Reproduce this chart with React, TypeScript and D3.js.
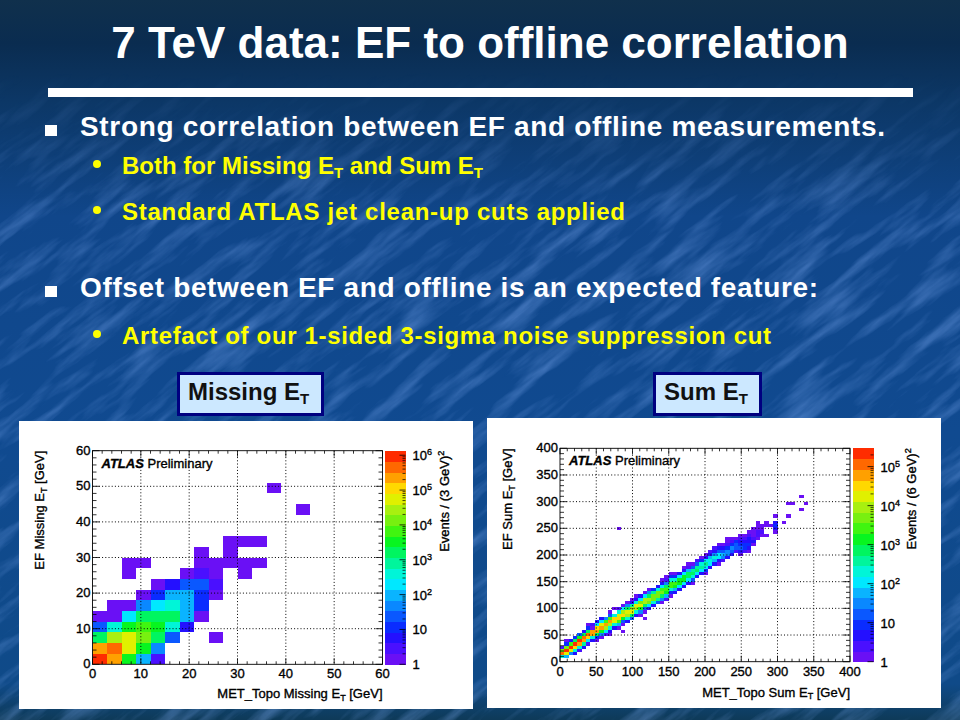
import { quantize, range, scaleLinear, scaleLog, scaleQuantize } from 'd3';
import React from 'react';

const W = 960;
const H = 720;
const font = '"Liberation Sans", Arial, sans-serif';

// contour colours, level 1 (lowest) to 20 (highest)
const palette = [
	'#6a10f5', '#4a10ff', '#2410ff', '#0a2cff', '#0a58ff', '#0a88ff', '#0ab4ff', '#00e8ff', '#00f5d8', '#00f59c',
	'#00f560', '#08f520', '#40f510', '#78f010', '#a8f010', '#e0f000', '#ffd800', '#ffa000', '#ff6800', '#ff2c00',
];

// left plot: EF vs offline missing ET, 3 GeV bins: [y bin, first x bin, levels]
const missingRows: [number, number, number[]][] = [
	[0, 0, [20, 18, 12, 7, 2]],
	[1, 0, [18, 19, 16, 12, 6]],
	[2, 0, [11, 15, 16, 14, 11, 5]],
	[2, 8, [1]],
	[3, 0, [5, 9, 12, 13, 12, 9, 3]],
	[4, 0, [1, 1, 8, 11, 11, 11, 7, 1]],
	[5, 1, [1, 1, 6, 8, 9, 7, 4]],
	[6, 3, [1, 4, 7, 7, 4, 1]],
	[7, 4, [1, 3, 5, 5, 2]],
	[8, 2, [1]],
	[8, 6, [1, 2, 1]],
	[8, 10, [1]],
	[9, 2, [1, 1]],
	[9, 7, [1, 1, 1, 1, 1]],
	[10, 7, [1]],
	[10, 9, [1]],
	[11, 9, [1, 1, 1]],
	[14, 14, [1]],
	[16, 12, [1]],
];

// right plot: EF vs offline sum ET, 6 GeV bins: [x bin, first y bin, levels], 0 = empty
const sumColumns: [number, number, number[]][] = [
	[0, 1, [9, 19, 14, 2]],
	[1, 1, [7, 16, 20, 14, 4, 1]],
	[2, 2, [6, 16, 20, 13, 3]],
	[3, 2, [3, 9, 17, 20, 11, 4]],
	[4, 3, [2, 9, 18, 20, 12, 5]],
	[5, 4, [3, 10, 18, 19, 11, 3]],
	[6, 5, [2, 8, 17, 19, 11, 4]],
	[7, 6, [3, 9, 18, 18, 9, 2]],
	[8, 6, [1, 4, 11, 18, 17, 8, 3]],
	[9, 7, [1, 6, 12, 18, 16, 8, 3]],
	[10, 8, [2, 8, 15, 18, 13, 6]],
	[11, 9, [3, 9, 15, 18, 13, 5, 1]],
	[12, 10, [3, 9, 16, 17, 9, 0, 1]],
	[13, 10, [1, 7, 13, 17, 16, 9, 2]],
	[14, 11, [1, 5, 12, 17, 15, 8, 1]],
	[15, 12, [3, 9, 15, 16, 11, 6, 1]],
	[16, 13, [5, 11, 16, 15, 10, 3, 1]],
	[17, 14, [3, 9, 15, 16, 9, 3, 1]],
	[18, 14, [1, 6, 12, 16, 14, 8, 3]],
	[19, 15, [1, 5, 11, 15, 15, 8, 1]],
	[20, 16, [3, 8, 14, 15, 11, 6, 1]],
	[21, 17, [3, 9, 14, 14, 10, 4]],
	[22, 18, [5, 10, 14, 14, 9, 3]],
	[23, 18, [1, 6, 11, 14, 13, 8, 3, 1]],
	[24, 19, [2, 7, 12, 13, 11, 6, 2, 1]],
	[25, 20, [1, 4, 9, 13, 13, 9, 4, 1]],
	[26, 21, [3, 7, 12, 13, 9, 4, 1]],
	[27, 22, [3, 8, 12, 12, 8, 3]],
	[28, 23, [3, 8, 12, 12, 8, 3, 1]],
	[29, 24, [3, 8, 11, 11, 7, 2, 1]],
	[30, 24, [1, 5, 9, 11, 10, 5, 1]],
	[31, 26, [3, 8, 11, 10, 5, 2]],
	[32, 27, [3, 8, 10, 9, 4, 1]],
	[33, 27, [1, 4, 8, 10, 8, 3, 1]],
	[34, 29, [3, 8, 9, 7, 3, 2]],
	[35, 30, [3, 7, 9, 6, 3, 2]],
	[36, 30, [1, 3, 8, 8, 5, 3, 1]],
	[37, 31, [2, 6, 7, 5, 3, 1]],
	[38, 32, [3, 6, 6, 4, 2, 1, 1]],
	[39, 33, [3, 5, 6, 4, 2, 1]],
	[40, 34, [2, 5, 5, 4, 1]],
	[41, 33, [1, 3, 5, 4, 3, 2, 1]],
	[42, 34, [2, 4, 4, 3, 2, 1]],
	[43, 34, [1, 3, 4, 3, 3, 2, 1]],
	[44, 36, [1, 3, 2, 1, 1, 1]],
	[45, 38, [1, 2, 2, 1, 1, 1]],
	[46, 39, [1, 2, 1, 1]],
	[47, 39, [1, 0, 0, 1, 1]],
	[48, 42, [1]],
	[49, 40, [1, 3, 4, 3, 0, 1]],
	[51, 43, [1]],
	[52, 45, [1, 0, 0, 0, 1]],
	[53, 49, [1]],
	[55, 47, [1, 0, 0, 0, 1]],
	[56, 49, [1]],
	[6, 11, [1]],
	[7, 10, [1]],
	[11, 8, [1]],
	[13, 41, [1]],
	[14, 9, [1]],
	[19, 13, [1]],
];

const missingXTicks = [0, 10, 20, 30, 40, 50, 60];
const missingYTicks = [0, 10, 20, 30, 40, 50, 60];
const sumXTicks = [0, 50, 100, 150, 200, 250, 300, 350, 400];
const sumYTicks = [0, 50, 100, 150, 200, 250, 300, 350, 400];
const missingZTop = 6.13;
const sumZTop = 5.47;

const headings = [
	{ text: 'Strong correlation between EF and offline measurements.', y: 136, len: 805 },
	{ text: 'Offset between EF and offline is an expected feature:', y: 297, len: 738 },
];
const subItems = [
	{ text: 'Standard ATLAS jet clean-up cuts applied', y: 220, len: 503 },
	{ text: 'Artefact of our 1-sided 3-sigma noise suppression cut', y: 344, len: 649 },
];

const Sub = ({ children, size }: { children: string; size: number }) => (
	<>
		<tspan dy={size * 0.28} fontSize={size}>{children}</tspan>
		<tspan dy={-size * 0.28}>{'\u200b'}</tspan>
	</>
);

interface PlotProps {
	x0: number;
	x1: number;
	yTop: number;
	yBottom: number;
	barX: number;
	xMax: number;
	bin: number;
	xTicks: number[];
	yTicks: number[];
	minorStep: number;
	zTop: number;
	cells: { i: number; j: number; level: number }[];
	atlasX: number;
	atlasY: number;
	xLabel: string;
	yLabel: string;
	yLabelX: number;
	xLabelY: number;
	zLabel: string;
	zLabelX: number;
}

const Plot = (p: PlotProps) => {
	const xScale = scaleLinear().domain([0, p.xMax]).range([p.x0, p.x1]);
	const yScale = scaleLinear().domain([0, p.xMax]).range([p.yBottom, p.yTop]);
	const zScale = scaleLog().domain([1, Math.pow(10, p.zTop)]).range([p.yBottom, p.yTop]);
	const colour = scaleQuantize<string>().domain([0.5, 20.5]).range(palette);
	const bands = scaleLinear().domain([0, 20]).range([p.yBottom, p.yTop]);
	const minor = range(0, p.xMax + 0.01, p.minorStep);
	const barW = 20.5;
	const decades = range(0, Math.floor(p.zTop) + 1);
	const zMinor = range(0, Math.ceil(p.zTop))
		.flatMap(d => range(2, 10).map(m => m * Math.pow(10, d)))
		.filter(v => v < Math.pow(10, p.zTop));
	const labelStyle = { fontFamily: font, fontSize: 13, fill: '#000', stroke: '#000', strokeWidth: 0.35 };

	return (
		<g>
			{p.cells.map(c => (
				<rect
					key={`${c.i}-${c.j}`}
					x={xScale(c.i * p.bin)}
					y={yScale((c.j + 1) * p.bin)}
					width={xScale((c.i + 1) * p.bin) - xScale(c.i * p.bin)}
					height={yScale(c.j * p.bin) - yScale((c.j + 1) * p.bin)}
					fill={colour(c.level)}
					shapeRendering="crispEdges"
				/>
			))}
			{/* dotted grid */}
			{p.xTicks.slice(1, -1).map(t => (
				<line key={t} x1={xScale(t)} x2={xScale(t)} y1={p.yTop} y2={p.yBottom} stroke="#000" strokeDasharray="1 2.2" />
			))}
			{p.yTicks.slice(1, -1).map(t => (
				<line key={t} x1={p.x0} x2={p.x1} y1={yScale(t)} y2={yScale(t)} stroke="#000" strokeDasharray="1 2.2" />
			))}
			{minor.map(t => {
				const major = t % p.xTicks[1] === 0;
				const len = major ? 6 : 3;
				return (
					<g key={t} stroke="#000" strokeWidth={0.8}>
						<line x1={xScale(t)} x2={xScale(t)} y1={p.yBottom} y2={p.yBottom - len} />
						<line x1={xScale(t)} x2={xScale(t)} y1={p.yTop} y2={p.yTop + len} />
						<line y1={yScale(t)} y2={yScale(t)} x1={p.x0} x2={p.x0 + len + 1} />
						<line y1={yScale(t)} y2={yScale(t)} x1={p.x1} x2={p.x1 - len - 1} />
					</g>
				);
			})}
			<rect x={p.x0} y={p.yTop} width={p.x1 - p.x0} height={p.yBottom - p.yTop} fill="none" stroke="#000" strokeWidth={0.9} />
			{p.xTicks.map(t => (
				<text key={t} x={xScale(t)} y={p.yBottom + 14} textAnchor="middle" {...labelStyle}>{t}</text>
			))}
			{p.yTicks.map(t => (
				<text key={t} x={p.x0 - 2} y={yScale(t) + 4} textAnchor="end" {...labelStyle}>{t}</text>
			))}
			<text x={p.atlasX} y={p.atlasY} {...labelStyle}>
				<tspan fontWeight="bold" fontStyle="italic">ATLAS</tspan> Preliminary
			</text>
			<text x={p.x1} y={p.xLabelY} textAnchor="end" {...labelStyle}>
				{p.xLabel} E<Sub size={9}>T</Sub> [GeV]
			</text>
			<text transform={`translate(${p.yLabelX},${p.yTop}) rotate(-90)`} textAnchor="end" {...labelStyle}>
				{p.yLabel} E<Sub size={9}>T</Sub> [GeV]
			</text>
			{/* colour bar */}
			{palette.map((c, k) => (
				<rect key={c} x={p.barX} y={bands(k + 1)} width={barW} height={bands(k) - bands(k + 1) + 0.5} fill={c} shapeRendering="crispEdges" />
			))}
			{zMinor.map(v => (
				<line key={v} x1={p.barX + barW} x2={p.barX + barW - 3} y1={zScale(v)} y2={zScale(v)} stroke="#000" strokeWidth={0.7} />
			))}
			{decades.map(d => (
				<g key={d}>
					<line x1={p.barX + barW} x2={p.barX + barW - 6} y1={zScale(Math.pow(10, d))} y2={zScale(Math.pow(10, d))} stroke="#000" strokeWidth={0.8} />
					<text x={p.barX + barW + 7} y={zScale(Math.pow(10, d)) + 5} {...labelStyle}>
						{d === 0 ? '1' : '10'}
						{d > 1 && <tspan dy={-5} fontSize={9}>{d}</tspan>}
					</text>
				</g>
			))}
			<text transform={`translate(${p.zLabelX},${p.yTop}) rotate(-90)`} textAnchor="end" {...labelStyle}>
				{p.zLabel}
				<tspan dy={-5} fontSize={9}>2</tspan>
			</text>
		</g>
	);
};

const missingCells = missingRows.flatMap(([j, start, levels]) =>
	levels.map((level, k) => ({ i: start + k, j, level })),
);
const sumCells = sumColumns.flatMap(([i, start, levels]) =>
	levels.map((level, k) => ({ i, j: start + k, level })).filter(c => c.level > 0),
);

const App = () => (
	<svg width={W} height={H} style={{ position: 'absolute', left: 0, top: 0, display: 'block' }}>
		<defs>
			<linearGradient id="bg" x1="0" y1="0" x2="0" y2="1">
				<stop offset="0" stopColor="#10304c" />
				<stop offset="0.06" stopColor="#0a2c50" />
				<stop offset="0.14" stopColor="#0c3766" />
				<stop offset="0.3" stopColor="#10468a" />
				<stop offset="0.6" stopColor="#104a90" />
				<stop offset="0.95" stopColor="#0f4a88" />
				<stop offset="1" stopColor="#0e3a58" />
			</linearGradient>
			<linearGradient id="fade" x1="0" y1="0" x2="0" y2="1">
				<stop offset="0.1" stopColor="#000" />
				<stop offset="0.3" stopColor="#fff" />
			</linearGradient>
			<mask id="fadeMask" maskUnits="userSpaceOnUse" x="0" y="0" width={W} height={H}>
				<rect width={W} height={H} fill="url(#fade)" />
			</mask>
			<filter id="grain" x="0" y="0" width="100%" height="100%" colorInterpolationFilters="sRGB">
				<feTurbulence type="fractalNoise" baseFrequency="0.012 0.07" numOctaves={4} seed={7} />
				<feColorMatrix values="0 0 0 0 0.55  0 0 0 0 0.72  0 0 0 0 1  1.6 0 0 0 -0.72" />
			</filter>
		</defs>
		<rect width={W} height={H} fill="url(#bg)" />
		<g mask="url(#fadeMask)">
			<rect x={-400} y={-400} width={1800} height={1800} filter="url(#grain)" transform="rotate(-38 480 360)" opacity={0.55} />
		</g>

		<text x={480} y={58} textAnchor="middle" fontFamily={font} fontSize={44} fontWeight="bold" fill="#fff">
			7 TeV data: EF to offline correlation
		</text>
		<rect x={48} y={88} width={865} height={9} fill="#fff" />

		{headings.map(h => (
			<g key={h.text}>
				<rect x={45} y={h.y - 11} width={12} height={11} fill="#fff" />
				<text x={80} y={h.y} fontFamily={font} fontSize={28} fontWeight="bold" fill="#fff" textLength={h.len}>{h.text}</text>
			</g>
		))}
		<circle cx={97} cy={164} r={4} fill="#ffff00" />
		<text x={122} y={174} fontFamily={font} fontSize={24} fontWeight="bold" fill="#ffff00">
			Both for Missing E<Sub size={15}>T</Sub> and Sum E<Sub size={15}>T</Sub>
		</text>
		{subItems.map(s => (
			<g key={s.text}>
				<circle cx={97} cy={s.y - 10} r={4} fill="#ffff00" />
				<text x={122} y={s.y} fontFamily={font} fontSize={24} fontWeight="bold" fill="#ffff00" textLength={s.len}>{s.text}</text>
			</g>
		))}

		<rect x={178.5} y={373.5} width={144} height={41} fill="#cce8ff" stroke="#000080" strokeWidth={3} />
		<text x={188} y={400} fontFamily={font} fontSize={24} fontWeight="bold" fill="#111">
			Missing E<Sub size={15}>T</Sub>
		</text>
		<rect x={654.5} y={373.5} width={106} height={41} fill="#cce8ff" stroke="#000080" strokeWidth={3} />
		<text x={664} y={400} fontFamily={font} fontSize={24} fontWeight="bold" fill="#111">
			Sum E<Sub size={15}>T</Sub>
		</text>

		<rect x={19} y={421} width={454} height={288} fill="#fff" />
		<rect x={487} y={418} width={454} height={290} fill="#fff" />

		<Plot
			x0={92.5}
			x1={382.5}
			yTop={450.7}
			yBottom={664.3}
			barX={385}
			xMax={60}
			bin={3}
			xTicks={missingXTicks}
			yTicks={missingYTicks}
			minorStep={2}
			zTop={missingZTop}
			cells={missingCells}
			atlasX={101.5}
			atlasY={467.5}
			xLabel="MET_Topo Missing"
			yLabel="EF Missing"
			yLabelX={44}
			xLabelY={698}
			zLabel="Events / (3 GeV)"
			zLabelX={449}
		/>
		<Plot
			x0={560}
			x1={850}
			yTop={448.3}
			yBottom={661.7}
			barX={853}
			xMax={400}
			bin={6}
			xTicks={sumXTicks}
			yTicks={sumYTicks}
			minorStep={10}
			zTop={sumZTop}
			cells={sumCells}
			atlasX={569}
			atlasY={465}
			xLabel="MET_Topo Sum"
			yLabel="EF Sum"
			yLabelX={512}
			xLabelY={696.5}
			zLabel="Events / (6 GeV)"
			zLabelX={916}
		/>
	</svg>
);

export default App;
